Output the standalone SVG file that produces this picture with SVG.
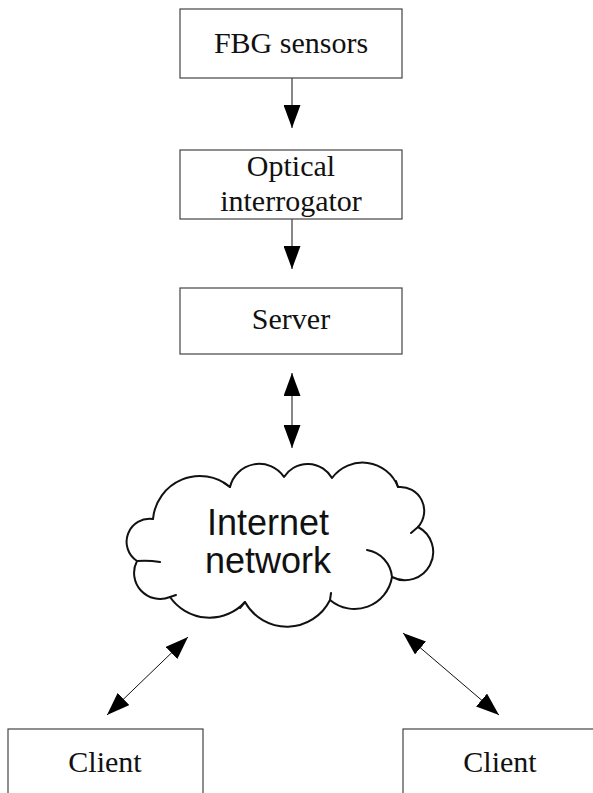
<svg xmlns="http://www.w3.org/2000/svg" width="593" height="793" viewBox="0 0 593 793">
  <style>
    .box { fill: #ffffff; stroke: #444444; stroke-width: 1.2; }
    .lbl { font-family: "Liberation Serif", "Times New Roman", serif; font-size: 30px; fill: #111111; text-anchor: middle; }
    .cloudtxt { font-family: "Liberation Sans", Arial, sans-serif; font-size: 36px; fill: #111111; text-anchor: middle; }
    .conn { stroke: #111111; stroke-width: 1; fill: none; }
    .cloud { fill: #ffffff; stroke: #111111; stroke-width: 2; stroke-linejoin: round; }
    .tick { fill: none; stroke: #111111; stroke-width: 2; stroke-linecap: round; }
  </style>
  <defs>
    <marker id="ah" markerUnits="userSpaceOnUse" viewBox="0 0 23 17" refX="23" refY="8.5" markerWidth="23" markerHeight="17" orient="auto-start-reverse">
      <path d="M0,0 L23,8.5 L0,17 Z" fill="#000000"/>
    </marker>
  </defs>
  <rect width="593" height="793" fill="#ffffff"/>

  <g id="connectors">
    <line class="conn" x1="292" y1="78" x2="292" y2="128" marker-end="url(#ah)"/>
    <line class="conn" x1="292" y1="219" x2="292" y2="269" marker-end="url(#ah)"/>
    <line class="conn" x1="292" y1="373" x2="292" y2="448" marker-start="url(#ah)" marker-end="url(#ah)"/>
    <line class="conn" x1="188" y1="637" x2="107" y2="715" marker-start="url(#ah)" marker-end="url(#ah)"/>
    <line class="conn" x1="403" y1="633" x2="499" y2="715" marker-start="url(#ah)" marker-end="url(#ah)"/>
  </g>

  <g id="fbg-sensors">
    <rect class="box" x="180" y="9" width="222" height="69"/>
    <text class="lbl" x="291" y="53">FBG sensors</text>
  </g>

  <g id="optical-interrogator">
    <rect class="box" x="180" y="150" width="222" height="69"/>
    <text class="lbl" x="291" y="176">Optical</text>
    <text class="lbl" x="291" y="211">interrogator</text>
  </g>

  <g id="server">
    <rect class="box" x="180" y="288" width="222" height="66"/>
    <text class="lbl" x="291" y="329">Server</text>
  </g>

  <g id="internet-network">
    <path class="cloud" d="M153,519 A47,47 0 0 1 230,487 A30,30 0 0 1 284,477 A28,28 0 0 1 332,478 A38,38 0 0 1 398,487 A24,24 0 0 1 418,527 A28,28 0 0 1 392,577 A38,38 0 0 1 330,600 A48,48 0 0 1 245,602 A48,48 0 0 1 170,597 A26,26 0 0 1 137,561 A23,23 0 0 1 153,519 Z"/>
    <path class="tick" d="M367,550 A30,30 0 0 1 392,577"/>
    <path class="tick" d="M418,527 L411,533"/>
    <path class="tick" d="M137,561 Q148,560 160,562"/>
    <path class="tick" d="M230,487 L224,483"/>
    <path class="tick" d="M330,600 L331,593"/>
    <path class="tick" d="M245,602 L240,608"/>
    <path class="tick" d="M170,597 L176,595"/>
    <path class="tick" d="M398,487 L396,481"/>
    <text class="cloudtxt" x="268" y="535">Internet</text>
    <text class="cloudtxt" x="268" y="573">network</text>
  </g>

  <g id="client-left">
    <rect class="box" x="8" y="729" width="195" height="80"/>
    <text class="lbl" x="105" y="772">Client</text>
  </g>

  <g id="client-right">
    <rect class="box" x="403" y="729" width="195" height="80"/>
    <text class="lbl" x="500" y="772">Client</text>
  </g>
</svg>
